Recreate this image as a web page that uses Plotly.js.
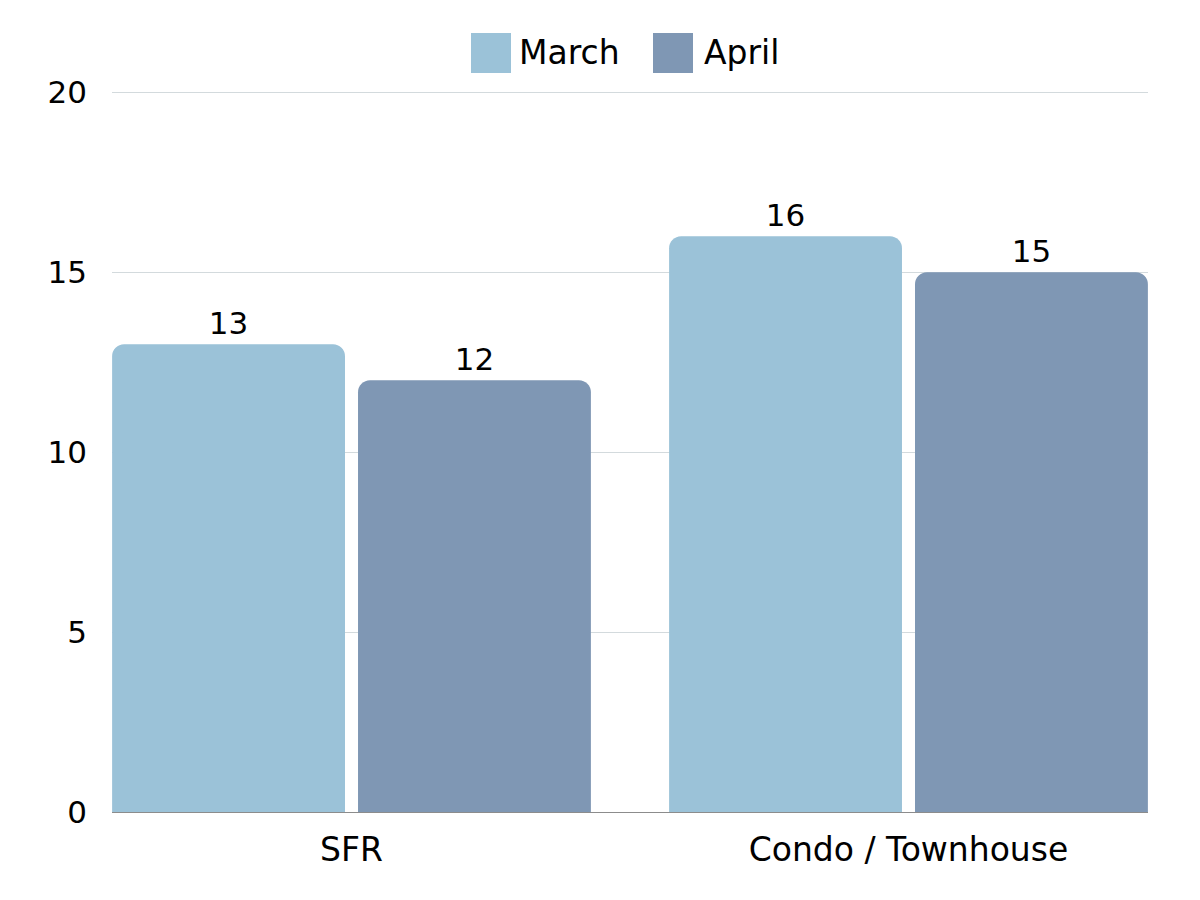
<!DOCTYPE html>
<html>
<head>
<meta charset="utf-8">
<script src="https://cdn.plot.ly/plotly-3.0.1.min.js"></script>
<style>html,body{margin:0;padding:0;background:#fff;}#chart{width:1200px;height:900px;}</style>
</head>
<body>
<div id="chart"></div>
<script>
const categories = ["SFR", "Condo / Townhouse"];
const seriesNames = ["March", "April"];
const marchValues = [13, 16];
const aprilValues = [12, 15];
const yTickValues = [0, 5, 10, 15, 20];
const colors = ["#9BC2D8", "#7F97B4"];

const FONT = "DejaVu Sans, sans-serif";

const traces = [marchValues, aprilValues].map((vals, i) => ({
  type: "bar",
  name: seriesNames[i],
  x: [0, 1],
  y: vals,
  text: vals.map(String),
  textposition: "outside",
  cliponaxis: false,
  textfont: {family: FONT, size: 31, color: "#000"},
  marker: {color: colors[i], cornerradius: 12},
  hoverinfo: "skip",
  showlegend: false
}));

// custom legend with large swatches (paper coords, plot area 112..1148 x 91..812)
const PL = 112, PW = 1036, PB = 812, PH = 721;
const shapes = [];
const annotations = [];
const legendX = [471, 653];
const legendTextX = [517, 702];
seriesNames.forEach((n, i) => {
  shapes.push({type: "rect", xref: "paper", yref: "paper",
    x0: (legendX[i] - PL) / PW, x1: (legendX[i] + 40 - PL) / PW,
    y0: (PB - 73) / PH, y1: (PB - 33) / PH,
    fillcolor: colors[i], line: {width: 0}});
  annotations.push({xref: "paper", yref: "paper",
    x: (legendTextX[i] - PL) / PW, y: (PB - 52) / PH,
    xanchor: "left", yanchor: "middle", showarrow: false,
    text: n, font: {family: FONT, size: 33, color: "#000"}});
});

const layout = {
  width: 1200, height: 900,
  margin: {l: 112, r: 52, t: 91, b: 88},
  paper_bgcolor: "#fff", plot_bgcolor: "#fff",
  font: {family: FONT, size: 31, color: "#000"},
  barmode: "group",
  bargap: 0.117,
  bargroupgap: 0.053,
  showlegend: false,
  xaxis: {
    range: [-0.43, 1.43],
    tickmode: "array", tickvals: [0, 1], ticktext: categories,
    showgrid: false, zeroline: false,
    showline: true, linecolor: "#8c8c8c", linewidth: 1,
    ticks: "", ticklabelstandoff: 8,
    tickfont: {family: FONT, size: 33, color: "#000"},
    fixedrange: true
  },
  yaxis: {
    range: [0, 20.04],
    tickmode: "array", tickvals: yTickValues, ticktext: yTickValues.map(String),
    showgrid: true, gridcolor: "#d3dadd", gridwidth: 1,
    zeroline: false, showline: false, ticks: "",
    ticklabelstandoff: 24,
    tickfont: {family: FONT, size: 31, color: "#000"},
    fixedrange: true
  },
  shapes: shapes,
  annotations: annotations
};

Plotly.newPlot("chart", traces, layout, {displayModeBar: false, staticPlot: true});
</script>
</body>
</html>
